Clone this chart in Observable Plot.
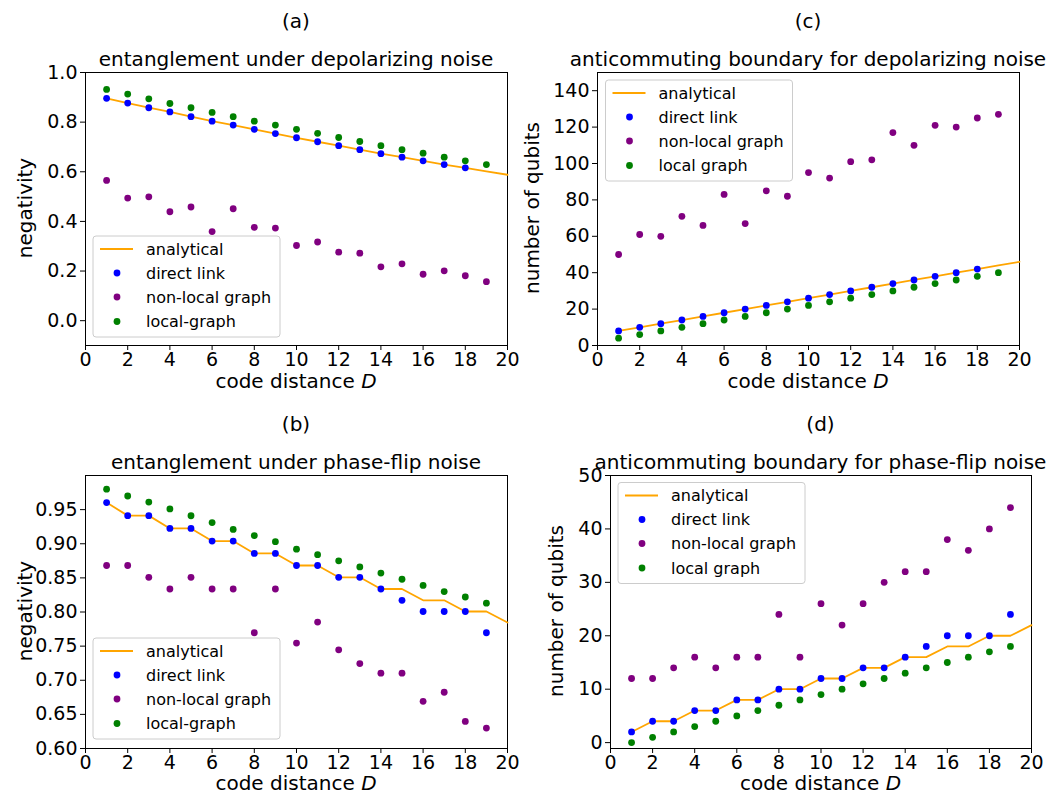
<!DOCTYPE html>
<html><head><meta charset="utf-8">
<script src="https://cdn.jsdelivr.net/npm/d3@7"></script>
<script src="https://cdn.jsdelivr.net/npm/@observablehq/plot@0.6"></script>
<style>
body{margin:0;background:#fff;}
#fig{position:relative;width:1050px;height:798px;overflow:hidden;background:#fff;font-family:"DejaVu Sans",sans-serif;}
#fig > svg{position:absolute;}
</style></head><body><div id="fig"></div>
<script>
// ---------- data ----------
const xTicks = [0,2,4,6,8,10,12,14,16,18,20];
const Dline = [1,2,3,4,5,6,7,8,9,10,11,12,13,14,15,16,17,18,19,20];
const D19 = [1,2,3,4,5,6,7,8,9,10,11,12,13,14,15,16,17,18,19];
const D18 = [1,2,3,4,5,6,7,8,9,10,11,12,13,14,15,16,17,18];

// (a) entanglement under depolarizing noise
const aAnalytical = [0.896,0.877,0.858,0.841,0.822,0.804,0.788,0.771,0.754,0.737,0.721,0.705,0.689,0.673,0.659,0.644,0.629,0.616,0.602,0.588];
const aDirect = [0.896,0.877,0.858,0.841,0.822,0.804,0.788,0.771,0.754,0.737,0.721,0.705,0.689,0.673,0.659,0.644,0.629,0.616];
const aNonlocal = [0.565,0.494,0.499,0.439,0.458,0.359,0.451,0.376,0.373,0.303,0.317,0.276,0.272,0.217,0.229,0.187,0.201,0.181,0.157];
const aLocal = [0.932,0.913,0.894,0.875,0.858,0.839,0.822,0.804,0.788,0.771,0.755,0.738,0.722,0.705,0.689,0.675,0.659,0.644,0.629];
const aTicks = [0,0.2,0.4,0.6,0.8,1.0];

// (b) entanglement under phase-flip noise
const bAnalytical = [0.9604,0.9412,0.9412,0.9224,0.9224,0.9039,0.9039,0.8858,0.8858,0.8681,0.8681,0.8508,0.8508,0.8337,0.8337,0.8171,0.8171,0.8007,0.8007,0.7847];
const bDirect = [0.9604,0.9412,0.9412,0.9224,0.9224,0.9039,0.9039,0.8858,0.8858,0.8681,0.8681,0.8508,0.8508,0.8337,0.8171,0.8007,0.8007,0.8007,0.7696];
const bNonlocal = [0.8681,0.8681,0.8508,0.8337,0.8508,0.8337,0.8337,0.7696,0.8337,0.7544,0.7853,0.7446,0.7245,0.7103,0.7103,0.6691,0.6824,0.6397,0.6299];
const bLocal = [0.980,0.970,0.961,0.951,0.941,0.931,0.921,0.912,0.903,0.892,0.884,0.875,0.866,0.857,0.848,0.839,0.830,0.822,0.813];
const bTicks = [0.60,0.65,0.70,0.75,0.80,0.85,0.90,0.95];

// (c) anticommuting boundary for depolarizing noise
const cAnalytical = [8,10,12,14,16,18,20,22,24,26,28,30,32,34,36,38,40,42,44,46];
const cDirect = [8,10,12,14,16,18,20,22,24,26,28,30,32,34,36,38,40,42];
const cNonlocal = [50,61,60,71,66,83,67,85,82,95,92,101,102,117,110,121,120,125,127];
const cLocal = [4,6,8,10,12,14,16,18,20,22,24,26,28,30,32,34,36,38,40];
const cTicks = [0,20,40,60,80,100,120,140];

// (d) anticommuting boundary for phase-flip noise
const dAnalytical = [2,4,4,6,6,8,8,10,10,12,12,14,14,16,16,18,18,20,20,22];
const dDirect = [2,4,4,6,6,8,8,10,10,12,12,14,14,16,18,20,20,20,24];
const dNonlocal = [12,12,14,16,14,16,16,24,16,26,22,26,30,32,32,38,36,40,44];
const dLocal = [0,1,2,3,4,5,6,7,8,9,10,11,12,13,14,15,16,17,18];
const dTicks = [0,10,20,30,40,50];

const legendAB = ["analytical","direct link","non-local graph","local-graph"];
const legendCD = ["analytical","direct link","non-local graph","local graph"];
const colors = ["orange","blue","purple","green"];

// ---------- drawing ----------
const fig = document.getElementById("fig");
const rows = (xs, ys) => xs.map((d, i) => ({D: d, v: ys[i]}));
const TICK_FS = 19;

function panel(o) {
  const svg = Plot.plot({
    width: o.width, height: o.height,
    marginLeft: o.mL, marginRight: o.mR, marginTop: o.mT, marginBottom: o.mB,
    x: {domain: [0, 20]},
    y: {domain: o.yDomain},
    style: {fontFamily: "DejaVu Sans", fontSize: TICK_FS + "px", color: "black", background: "transparent", overflow: "visible"},
    marks: [
      Plot.frame({stroke: "black", strokeWidth: 1}),
      Plot.axisX({ticks: xTicks, tickSize: 5, tickPadding: 2, fontSize: TICK_FS, label: null}),
      Plot.axisY({ticks: o.yTicks, tickFormat: o.yFormat, tickSize: 5, tickPadding: 3, fontSize: TICK_FS, label: null}),
      Plot.line(rows(Dline, o.analytical), {x: "D", y: "v", stroke: colors[0], strokeWidth: 1.8}),
      Plot.dot(rows(o.dDirect, o.direct), {x: "D", y: "v", fill: colors[1], r: 3.4}),
      Plot.dot(rows(D19, o.nonlocal), {x: "D", y: "v", fill: colors[2], r: 3.4}),
      Plot.dot(rows(D19, o.local), {x: "D", y: "v", fill: colors[3], r: 3.4})
    ]
  });
  svg.querySelectorAll('g[aria-label$="tick label"]').forEach(g => g.setAttribute("font-size", TICK_FS));
  svg.style.left = o.left + "px";
  svg.style.top = o.top + "px";
  fig.appendChild(svg);
}

panel({left: 0, top: 62, width: 525, height: 313, mL: 85, mR: 18, mT: 10, mB: 30,
  yDomain: [-0.1, 1.0], yTicks: aTicks, yFormat: d3.format(".1f"),
  analytical: aAnalytical, dDirect: D18, direct: aDirect, nonlocal: aNonlocal, local: aLocal});
panel({left: 0, top: 465, width: 525, height: 313, mL: 85, mR: 18, mT: 10, mB: 30,
  yDomain: [0.6, 1.0], yTicks: bTicks, yFormat: d3.format(".2f"),
  analytical: bAnalytical, dDirect: D19, direct: bDirect, nonlocal: bNonlocal, local: bLocal});
panel({left: 525, top: 62, width: 525, height: 313, mL: 72, mR: 31, mT: 10, mB: 30,
  yDomain: [0, 150], yTicks: cTicks, yFormat: d3.format("d"),
  analytical: cAnalytical, dDirect: D18, direct: cDirect, nonlocal: cNonlocal, local: cLocal});
panel({left: 525, top: 465, width: 525, height: 313, mL: 85, mR: 19, mT: 10, mB: 30,
  yDomain: [-1.1, 50], yTicks: dTicks, yFormat: d3.format("d"),
  analytical: dAnalytical, dDirect: D19, direct: dDirect, nonlocal: dNonlocal, local: dLocal});

// ---------- overlay: titles, axis labels, legends ----------
const NS = "http://www.w3.org/2000/svg";
const ov = document.createElementNS(NS, "svg");
ov.setAttribute("width", 1050); ov.setAttribute("height", 798);
ov.style.left = "0px"; ov.style.top = "0px";
ov.setAttribute("font-family", "DejaVu Sans");
fig.appendChild(ov);

function txt(x, y, s, size, opts = {}) {
  const t = document.createElementNS(NS, "text");
  t.setAttribute("x", x); t.setAttribute("y", y);
  t.setAttribute("font-size", size);
  t.setAttribute("text-anchor", opts.anchor || "middle");
  t.setAttribute("fill", "black");
  if (opts.transform) t.setAttribute("transform", opts.transform);
  t.textContent = s;
  if (opts.italic) {
    const ts = document.createElementNS(NS, "tspan");
    ts.setAttribute("font-style", "italic");
    ts.textContent = opts.italic;
    t.appendChild(ts);
  }
  ov.appendChild(t);
  return t;
}

// titles
txt(296, 28, "(a)", 20);
txt(296, 66, "entanglement under depolarizing noise", 20);
txt(808, 28, "(c)", 20);
txt(808, 66, "anticommuting boundary for depolarizing noise", 20);
txt(296, 431, "(b)", 20);
txt(296, 469, "entanglement under phase-flip noise", 20);
txt(820.5, 431, "(d)", 20);
txt(820.5, 469, "anticommuting boundary for phase-flip noise", 20);

// axis labels
txt(296, 388, "code distance ", 20, {italic: "D"});
txt(296, 790, "code distance ", 20, {italic: "D"});
txt(808, 388, "code distance ", 20, {italic: "D"});
txt(820.5, 790, "code distance ", 20, {italic: "D"});
txt(0, 0, "negativity", 20, {transform: "translate(32,208) rotate(-90)"});
txt(0, 0, "negativity", 20, {transform: "translate(32,611) rotate(-90)"});
txt(0, 0, "number of qubits", 20, {transform: "translate(539,208) rotate(-90)"});
txt(0, 0, "number of qubits", 20, {transform: "translate(563,611) rotate(-90)"});

// legends
function legend(x0, y0, labels) {
  const w = 187, h = 101;
  const r = document.createElementNS(NS, "rect");
  r.setAttribute("x", x0); r.setAttribute("y", y0);
  r.setAttribute("width", w); r.setAttribute("height", h);
  r.setAttribute("rx", 3);
  r.setAttribute("fill", "white"); r.setAttribute("fill-opacity", 0.8);
  r.setAttribute("stroke", "#cccccc"); r.setAttribute("stroke-width", 1);
  ov.appendChild(r);
  const offs = [13, 37, 61, 85.5];
  labels.forEach((lab, i) => {
    const cy = y0 + offs[i];
    if (i === 0) {
      const l = document.createElementNS(NS, "line");
      l.setAttribute("x1", x0 + 7); l.setAttribute("x2", x0 + 40);
      l.setAttribute("y1", cy); l.setAttribute("y2", cy);
      l.setAttribute("stroke", colors[0]); l.setAttribute("stroke-width", 1.8);
      ov.appendChild(l);
    } else {
      const c = document.createElementNS(NS, "circle");
      c.setAttribute("cx", x0 + 24); c.setAttribute("cy", cy); c.setAttribute("r", 3.4);
      c.setAttribute("fill", colors[i]);
      ov.appendChild(c);
    }
    txt(x0 + 53, cy + 5.8, lab, 16, {anchor: "start"});
  });
}
legend(93, 236, legendAB);
legend(93, 638, legendAB);
legend(605.5, 80, legendCD);
legend(618, 482.5, legendCD);
</script></body></html>
